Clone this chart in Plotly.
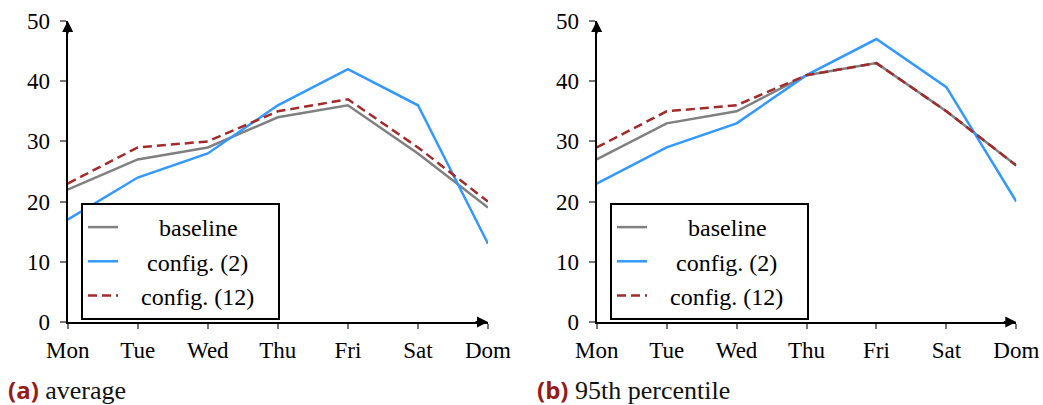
import plotly.graph_objects as go

days = ["Mon", "Tue", "Wed", "Thu", "Fri", "Sat", "Dom"]
y_ticks = [0, 10, 20, 30, 40, 50]

avg_baseline = [22, 27, 29, 34, 36, 28, 19]
avg_config2 = [17, 24, 28, 36, 42, 36, 13]
avg_config12 = [23, 29, 30, 35, 37, 29, 20]

p95_baseline = [27, 33, 35, 41, 43, 35, 26]
p95_config2 = [23, 29, 33, 41, 47, 39, 20]
p95_config12 = [29, 35, 36, 41, 43, 35, 26]

series_names = ["baseline", "config. (2)", "config. (12)"]
captions = ["average", "95th percentile"]
caption_tags = ["(a)", "(b)"]

W, H = 1043, 405
colors = ["#808080", "#3399ff", "#a32a2a"]
dashes = ["solid", "solid", "9px,5px"]
# padding (non-breaking spaces) to mimic centred legend text
lead_pad = [6, 4, 3]
trail_pad = [0, 0, 3]

tick_font = dict(family="Liberation Serif", size=23, color="black")
legend_font = dict(family="Liberation Serif", size=24, color="black")

fig = go.Figure()

panels = [
    (avg_baseline, avg_config2, avg_config12),
    (p95_baseline, p95_config2, p95_config12),
]
xdoms = [[67.7 / W, 488 / W], [596.7 / W, 1016.3 / W]]
ydom = [1 - 322 / H, 1 - 21 / H]

for p, data in enumerate(panels):
    xa = "x" if p == 0 else "x2"
    ya = "y" if p == 0 else "y2"
    leg = "legend" if p == 0 else "legend2"
    for i, vals in enumerate(data):
        label = "\u00a0" * lead_pad[i] + series_names[i] + "\u00a0" * trail_pad[i]
        fig.add_trace(go.Scatter(
            x=days, y=vals, mode="lines", name=label,
            line=dict(color=colors[i], width=2.5, dash=dashes[i]),
            xaxis=xa, yaxis=ya, legend=leg, legendgroup=f"g{p}{i}",
        ))

common_x = dict(range=[0, len(days) - 1], showgrid=False, zeroline=False, automargin=False,
                showline=True, linecolor="black", linewidth=2,
                ticks="outside", ticklen=5, tickwidth=1.5, tickcolor="#777777",
                tickfont=tick_font, ticklabelstandoff=1, fixedrange=True)
common_y = dict(range=[0, 50], tickvals=y_ticks, showgrid=False, zeroline=False, automargin=False,
                showline=True, linecolor="black", linewidth=2,
                ticks="outside", ticklen=6, tickwidth=1.5, tickcolor="#777777",
                tickfont=tick_font, ticklabelstandoff=5, fixedrange=True)

fig.update_layout(
    xaxis=dict(domain=xdoms[0], anchor="y", type="category", categoryarray=days, **common_x),
    yaxis=dict(domain=ydom, anchor="x", **common_y),
    xaxis2=dict(domain=xdoms[1], anchor="y2", type="category", categoryarray=days, **common_x),
    yaxis2=dict(domain=ydom, anchor="x2", **common_y),
)

# overlay axes for the inner half of crossing ticks
inner_x = dict(range=[0, len(days) - 1], tickvals=list(range(len(days))), showgrid=False,
               zeroline=False, showline=False, ticks="inside", ticklen=5, tickwidth=1.5,
               tickcolor="#777777", showticklabels=False, fixedrange=True, automargin=False)
inner_y = dict(range=[0, 50], tickvals=y_ticks, showgrid=False, zeroline=False,
               showline=False, ticks="inside", ticklen=5, tickwidth=1.5,
               tickcolor="#777777", showticklabels=False, fixedrange=True, automargin=False)
fig.update_layout(
    xaxis3=dict(overlaying="x", anchor="y", **inner_x),
    yaxis3=dict(overlaying="y", anchor="x", **inner_y),
    xaxis4=dict(overlaying="x2", anchor="y2", **inner_x),
    yaxis4=dict(overlaying="y2", anchor="x2", **inner_y),
)

annotations = []
for p in range(2):
    xr = "x" if p == 0 else "x2"
    yr = "y" if p == 0 else "y2"
    # arrowheads on axes
    annotations.append(dict(x=len(days) - 1, y=0, xref=xr, yref=yr, ax=-14, ay=0,
                            showarrow=True, arrowhead=2, arrowsize=1.1, arrowwidth=2,
                            arrowcolor="black", text=""))
    annotations.append(dict(x=0, y=50, xref=xr, yref=yr, ax=0, ay=14,
                            showarrow=True, arrowhead=2, arrowsize=1.1, arrowwidth=2,
                            arrowcolor="black", text=""))
    cx = [6 / W, 535 / W][p]
    annotations.append(dict(
        x=cx, y=1 - 389 / H, xref="paper", yref="paper", xanchor="left", yanchor="middle",
        showarrow=False,
        text=(f"<span style='font-family:Open Sans;font-size:24px;color:#961b1b'><b>{caption_tags[p]}</b></span>"
              f" {captions[p]}"),
        font=dict(family="Liberation Serif", size=26, color="#111111"),
    ))

legend_style = dict(
    xanchor="left", yanchor="top", font=legend_font,
    bgcolor="white", bordercolor="black", borderwidth=2,
    tracegroupgap=0, traceorder="grouped", itemclick=False, itemdoubleclick=False,
)
fig.update_layout(
    width=W, height=H, margin=dict(l=0, r=0, t=0, b=0, autoexpand=False),
    paper_bgcolor="white", plot_bgcolor="white",
    showlegend=True,
    legend=dict(x=81 / W, y=1 - 203 / H, **legend_style),
    legend2=dict(x=610 / W, y=1 - 203 / H, **legend_style),
    annotations=annotations,
)

fig.write_html("out.html", config={"displayModeBar": False})
